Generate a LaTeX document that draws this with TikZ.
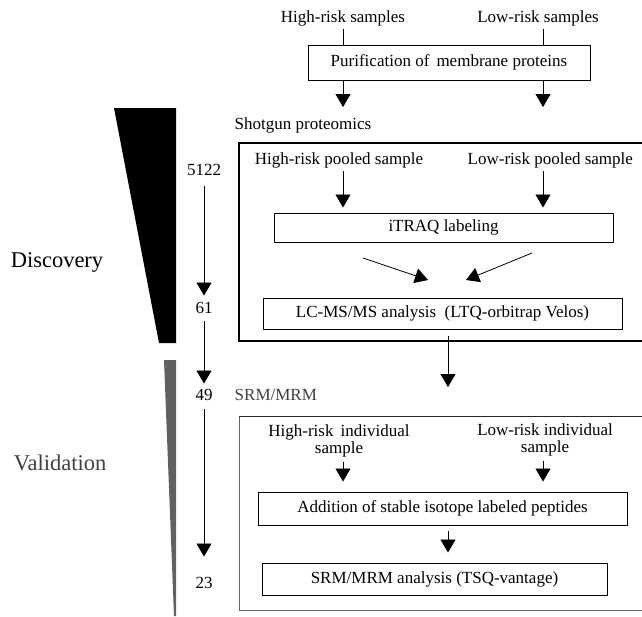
\documentclass[tikz,border=0pt]{standalone}
\usepackage{fontspec}
\setmainfont{Liberation Serif}
\usetikzlibrary{arrows.meta}
\begin{document}
\begin{tikzpicture}[x=1pt, y=-1pt, >={Triangle[width=15pt,length=13pt]},
    font=\fontsize{17}{17}\selectfont, line width=.8pt,
    box/.style={draw, line width=1pt, inner sep=0pt},
    frame/.style={draw, line width=1.2pt},
    big/.style={font=\fontsize{22.5}{24}\selectfont}]
\useasboundingbox (0,0) rectangle (642,616);
\clip (0,0) rectangle (642,616);
% funnel
\fill (114,108)--(176,108)--(176,343)--(159,343)--cycle;
\fill[black!62] (164,360)--(176,360)--(176,616)--(174,616)--cycle;
\node[big] (disc) at (57,262) {Discovery};
\node[big, black!75] (valid) at (60,463) {Validation};
% numbers
\node (n1) at (204,170) {5122};
\node (n2) at (204,308) {61};
\node (n3) at (204,395) {49};
\node (n4) at (204,583) {23};
\draw[->, shorten <=7pt, shorten >=3pt] (n1) -- (n2);
\draw[->, shorten <=4pt, shorten >=2pt] (n2) -- (n3);
\draw[->, shorten <=5pt, shorten >=17pt] (n3) -- (n4);
% top
\node (hs) at (343,18) {High-risk samples};
\node (ls) at (538,18) {Low-risk samples};
\node[box, minimum width=282pt, minimum height=35pt] (pur) at (449,62.5) {Purification of\, membrane proteins};
\draw (hs.south) -- (hs.south |- pur.north);
\draw ([xshift=5pt]ls.south) -- ([xshift=5pt]ls.south |- pur.north);
\coordinate (a1) at (343,107);
\coordinate (a2) at (543,107);
\draw[->] (pur.south -| a1) -- (a1);
\draw[->] (pur.south -| a2) -- (a2);
% shotgun
\node[anchor=west] (sg) at (231,125) {Shotgun proteomics};
\draw[frame] (239,143) rectangle (660,341);
\node (hp) at (339,160) {High-risk pooled sample};
\node[anchor=west] (lp) at (464,160) {Low-risk pooled sample};
\node[box, minimum width=339pt, minimum height=29pt] (itraq) at (443.5,227.5) {iTRAQ labeling};
\coordinate (b1) at (343,0);
\draw[->, shorten >=5pt] (hp.south -| b1) -- (itraq.north -| b1);
\draw[->, shorten >=5pt] (lp.south -| a2) -- (itraq.north -| a2);
\node[box, minimum width=359pt, minimum height=31pt] (lc) at (442.5,313.5) {LC-MS/MS analysis\enspace (LTQ-orbitrap Velos)};
\coordinate (d1) at (363,258);
\coordinate (d2) at (532,253);
\draw[->] (d1) -- (428,280);
\draw[->] (d2) -- (466,280);
\coordinate (m1) at (448,387);
\draw[->, shorten <=6pt] (lc.south -| m1) -- (m1);
% srm
\node[anchor=west, black!75] (srm) at (231,395) {SRM/MRM};
\draw[frame, line width=1pt, black!60] (239,416) rectangle (660,610);
\draw[line width=1pt, black!85] (239,416) -- (642,416);
\node[align=center, inner sep=1pt] (hi) at (339,441) {High-risk\, individual\\sample};
\node[align=center, inner sep=1pt] (li) at (545,440) {Low-risk individual\\sample};
\node[box, minimum width=369pt, minimum height=33pt] (add) at (442.5,508.5) {Addition of stable isotope labeled peptides};
\draw[->, shorten <=3pt, shorten >=10pt] (hi.south -| b1) -- (add.north -| b1);
\draw[->, shorten <=3pt, shorten >=10pt] (li.south -| a2) -- (add.north -| a2);
\node[box, minimum width=345pt, minimum height=32pt] (srma) at (434.5,579) {SRM/MRM analysis (TSQ-vantage)};
\draw[->, shorten <=5pt, shorten >=10pt] (add.south -| m1) -- (srma.north -| m1);
\end{tikzpicture}
\end{document}
